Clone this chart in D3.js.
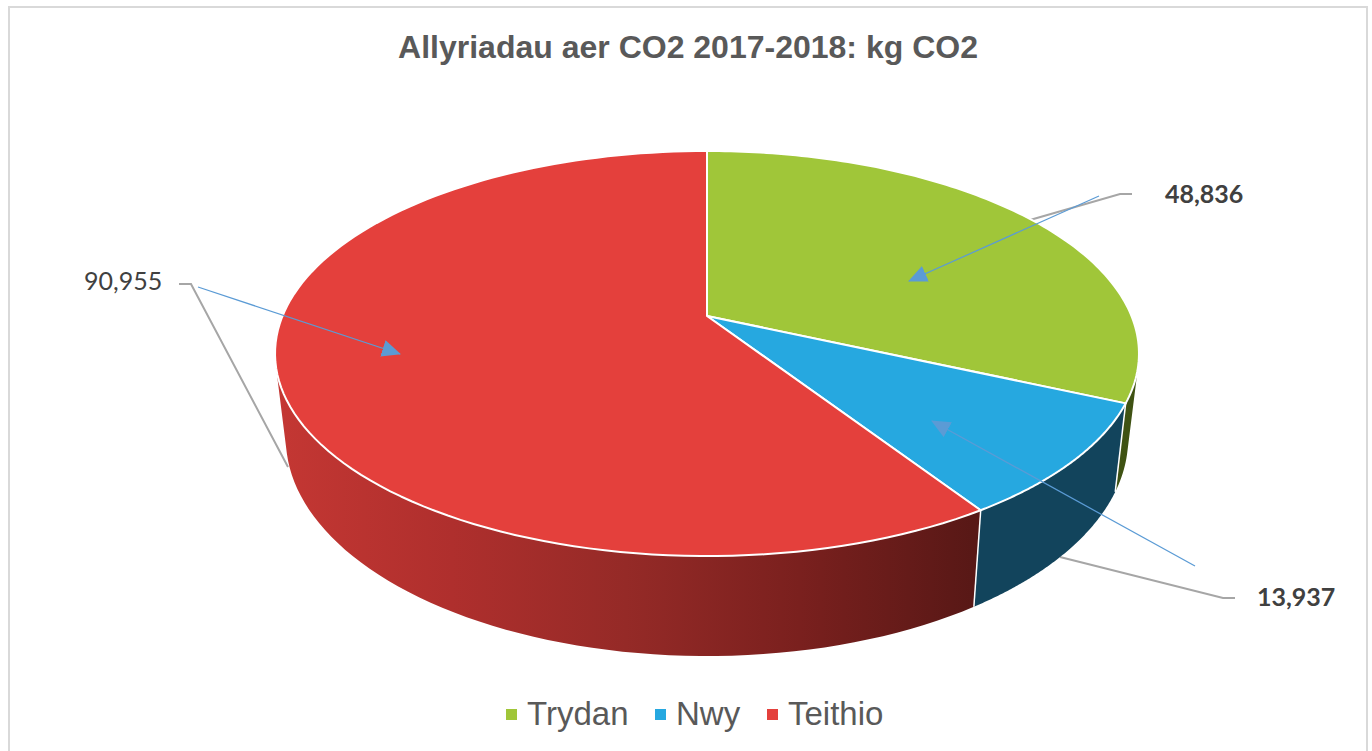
<!DOCTYPE html>
<html>
<head>
<meta charset="utf-8">
<script src="https://cdn.jsdelivr.net/npm/d3@7"></script>
<style>html,body{margin:0;padding:0;background:#fff;overflow:hidden}svg{display:block}</style>
</head>
<body>
<div id="chart"></div>
<script>
const chartTitle = "Allyriadau aer CO2 2017-2018: kg CO2";
const categories = ["Trydan", "Nwy", "Teithio"];
const values = [48836, 13937, 90955];
const labels = ["48,836", "13,937", "90,955"];
const topColors = ["#a0c639", "#26a8e0", "#e4403c"];
const wallColors = ["#3f5213", "#12445c", "url(#redWall)"];
const labelWeights = ["bold", "bold", "normal"];
const labelAnchors = [[1165, 203], [1257, 606], [84, 290]];
const leaderPaths = [
  [[1132, 194], [1120, 194], [1030, 220]],
  [[1235, 598], [1223, 598], [1060, 557]],
  [[179, 284], [191, 284], [288, 467]]
];
const arrowPaths = [
  [[1099, 196], [909, 281]],
  [[1195, 566], [932, 421]],
  [[198, 287], [400, 354]]
];
const legendX = [506, 655, 767];

const W = 1372, H = 751;
const svg = d3.select("#chart").append("svg").attr("width", W).attr("height", H);

// Perspective disc: projects a pie angle to the screen
const hub = [707, 316], A = 424.5, B = 195.6, P = 0.1852;
const base = { sx: 0.975, ky: 1.075, y0: 398 };
const topPt = a => {
  const u = Math.sin(a), v = Math.cos(a), d = 1 + P * v;
  return [hub[0] + A * u / d, hub[1] - B * v / d];
};
const botPt = a => {
  const u = Math.sin(a), v = Math.cos(a), d = 1 + P * v;
  return [hub[0] + base.sx * A * u / d, base.y0 - base.ky * B * v / d];
};

const defs = svg.append("defs");
const grad = defs.append("linearGradient").attr("id", "redWall")
  .attr("gradientUnits", "userSpaceOnUse")
  .attr("x1", 277).attr("x2", 974).attr("y1", 0).attr("y2", 0);
[[0, "#c43733"], [0.25, "#af2f2d"], [0.5, "#952a27"], [0.75, "#7a201e"], [1, "#581816"]]
  .forEach(s => grad.append("stop").attr("offset", s[0]).attr("stop-color", s[1]));
const mk = defs.append("marker").attr("id", "head").attr("markerUnits", "userSpaceOnUse")
  .attr("markerWidth", 20).attr("markerHeight", 18).attr("refX", 18).attr("refY", 8.5)
  .attr("orient", "auto");
mk.append("path").attr("d", "M0,0L19,8.5L0,17Z").attr("fill", "#5b9bd5");

// frame
svg.append("rect").attr("x", 9).attr("y", 7).attr("width", 1358).attr("height", H + 20)
  .attr("fill", "#fff").attr("stroke", "#d9d9d9").attr("stroke-width", 2);

// title
svg.append("text").attr("x", 688).attr("y", 58).attr("text-anchor", "middle")
  .attr("font-family", "'Liberation Sans',Arial,sans-serif").attr("font-weight", "bold")
  .attr("font-size", 32).attr("fill", "#595959").text(chartTitle);

const line = d3.line();

// leader lines sit behind the pie
svg.append("g").selectAll("path").data(leaderPaths).join("path")
  .attr("d", line).attr("fill", "none").attr("stroke", "#a6a6a6").attr("stroke-width", 2);

const arcs = d3.pie().sort(null).startAngle(0).endAngle(2 * Math.PI)(values);
const sample = (a0, a1) => d3.range(0, 121).map(i => a0 + (a1 - a0) * i / 120);

function wallPath(d) {
  const as = sample(d.startAngle, d.endAngle);
  const p = d3.path();
  for (let i = 0; i < as.length - 1; i++) {
    let q = [topPt(as[i]), topPt(as[i + 1]), botPt(as[i + 1]), botPt(as[i])];
    if (d3.polygonArea(q) < 0) q = q.reverse();
    q.forEach((c, j) => j ? p.lineTo(c[0], c[1]) : p.moveTo(c[0], c[1]));
    p.closePath();
  }
  return p.toString();
}
function topPath(d) {
  const pts = sample(d.startAngle, d.endAngle).map(topPt);
  return line([hub, ...pts]) + "Z";
}

// side walls
svg.append("g").selectAll("path").data(arcs).join("path")
  .attr("d", wallPath).attr("fill", d => wallColors[d.index]);

// white seams on the wall
svg.append("g").selectAll("line").data(arcs.slice(0, 2)).join("line")
  .attr("x1", d => topPt(d.endAngle)[0]).attr("y1", d => topPt(d.endAngle)[1])
  .attr("x2", d => botPt(d.endAngle)[0]).attr("y2", d => botPt(d.endAngle)[1])
  .attr("stroke", "#fff").attr("stroke-width", 1.5);

// top faces
svg.append("g").selectAll("path").data(arcs).join("path")
  .attr("d", topPath).attr("fill", d => topColors[d.index])
  .attr("stroke", "#fff").attr("stroke-width", 2).attr("stroke-linejoin", "round");

// arrows
svg.append("g").selectAll("path").data(arrowPaths).join("path")
  .attr("d", line).attr("fill", "none").attr("stroke", "#5b9bd5").attr("stroke-width", 1.25)
  .attr("marker-end", "url(#head)");

// data labels
svg.append("g").selectAll("text").data(labels).join("text")
  .attr("x", (d, i) => labelAnchors[i][0]).attr("y", (d, i) => labelAnchors[i][1])
  .attr("font-family", "Lato,'Open Sans',sans-serif").attr("font-size", 25)
  .attr("font-weight", (d, i) => labelWeights[i]).attr("fill", "#404040").text(d => d);

// legend
const lg = svg.append("g").selectAll("g").data(categories).join("g")
  .attr("transform", (d, i) => `translate(${legendX[i]},0)`);
lg.append("rect").attr("y", 709).attr("width", 11).attr("height", 11)
  .attr("fill", (d, i) => topColors[i]);
lg.append("text").attr("x", 21).attr("y", 725)
  .attr("font-family", "'Liberation Sans',Arial,sans-serif").attr("font-size", 33)
  .attr("fill", "#595959").text(d => d);
</script>
</body>
</html>
